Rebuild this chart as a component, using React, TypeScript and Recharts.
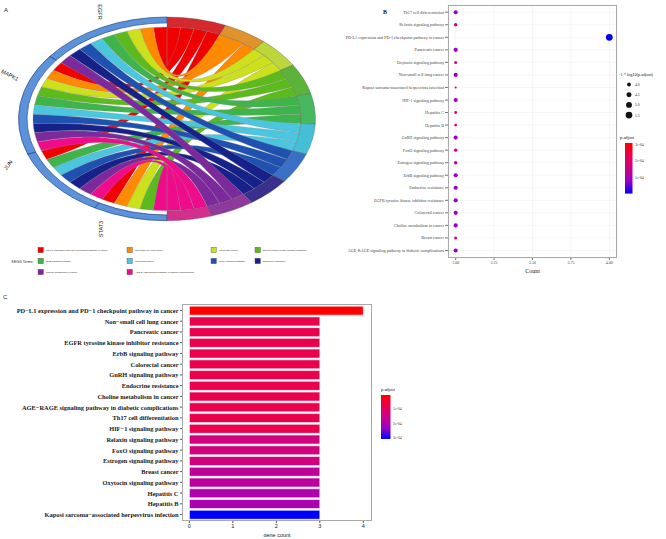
import React from "react";
import {
  PieChart, Pie, Cell, Customized, ScatterChart, Scatter, XAxis, YAxis, ZAxis, CartesianGrid, BarChart, Bar,
} from "recharts";

// ---- panel A: gene / KEGG term chord ----
const GENES = ["EGFR", "MAPK1", "JUN", "STAT3"];
const TERMS = [
  "PD-L1 expression and PD-1 checkpoint pathway in cancer",
  "Non-small cell lung cancer",
  "Pancreatic cancer",
  "EGFR tyrosine kinase inhibitor resistance",
  "ErbB signaling pathway",
  "Colorectal cancer",
  "GnRH signaling pathway",
  "Endocrine resistance",
  "Choline metabolism in cancer",
  "AGE-RAGE signaling pathway in diabetic complications",
];
const TERM_GENES = [
  ["EGFR", "MAPK1", "JUN", "STAT3"],
  ["EGFR", "MAPK1", "STAT3"],
  ["EGFR", "MAPK1", "STAT3"],
  ["EGFR", "MAPK1", "STAT3"],
  ["EGFR", "MAPK1", "JUN"],
  ["EGFR", "MAPK1", "JUN"],
  ["EGFR", "MAPK1", "JUN"],
  ["EGFR", "MAPK1", "JUN"],
  ["EGFR", "MAPK1", "JUN"],
  ["MAPK1", "JUN", "STAT3"],
];
const TERM_COLORS = ["#f00000", "#ff8a00", "#cde01c", "#5cba1e", "#3fb44a", "#4cc6df", "#1f52b0", "#17218a", "#7c2a9b", "#ee0c8a"];
const RING_COLORS = ["#d42a2e", "#df922e", "#bdd63c", "#5cb33a", "#47b760", "#45bfd5", "#3a6fc6", "#3b2f8e", "#8d3a9c", "#d42e8e"];

// ---- panels B and C: enrichment results ----
const BAR_TERMS = [
  "PD-L1 expression and PD-1 checkpoint pathway in cancer",
  "Non-small cell lung cancer",
  "Pancreatic cancer",
  "EGFR tyrosine kinase inhibitor resistance",
  "ErbB signaling pathway",
  "Colorectal cancer",
  "GnRH signaling pathway",
  "Endocrine resistance",
  "Choline metabolism in cancer",
  "AGE-RAGE signaling pathway in diabetic complications",
  "Th17 cell differentiation",
  "HIF-1 signaling pathway",
  "Relaxin signaling pathway",
  "FoxO signaling pathway",
  "Estrogen signaling pathway",
  "Breast cancer",
  "Oxytocin signaling pathway",
  "Hepatitis C",
  "Hepatitis B",
  "Kaposi sarcoma-associated herpesvirus infection",
];
const BAR_COUNTS = [4, 3, 3, 3, 3, 3, 3, 3, 3, 3, 3, 3, 3, 3, 3, 3, 3, 3, 3, 3];
const BAR_PADJ = [
  3.0e-6, 7.5e-5, 7.5e-5, 7.5e-5, 7.5e-5, 7.5e-5, 7.5e-5, 7.5e-5, 7.5e-5, 7.5e-5,
  7.6e-5, 7.8e-5, 1.4e-4, 1.4e-4, 1.42e-4, 1.8e-4, 1.85e-4, 2.05e-4, 2.1e-4, 3.1e-4,
];
// dot plot order, bottom to top
const DOT_ORDER = [
  "AGE-RAGE signaling pathway in diabetic complications",
  "Breast cancer",
  "Choline metabolism in cancer",
  "Colorectal cancer",
  "EGFR tyrosine kinase inhibitor resistance",
  "Endocrine resistance",
  "ErbB signaling pathway",
  "Estrogen signaling pathway",
  "FoxO signaling pathway",
  "GnRH signaling pathway",
  "Hepatitis B",
  "Hepatitis C",
  "HIF-1 signaling pathway",
  "Kaposi sarcoma-associated herpesvirus infection",
  "Non-small cell lung cancer",
  "Oxytocin signaling pathway",
  "Pancreatic cancer",
  "PD-L1 expression and PD-1 checkpoint pathway in cancer",
  "Relaxin signaling pathway",
  "Th17 cell differentiation",
];
const COUNT_TICKS = [3, 3.25, 3.5, 3.75, 4];
const GENE_COUNT_TICKS = [0, 1, 2, 3, 4];
const PADJ_BREAKS = [1e-4, 2e-4, 3e-4];
const SIZE_BREAKS = [4.0, 4.5, 5.0, 5.5];

// red <-> blue in Lab, like ggplot's gradient
const RED_LAB = [53.24, 80.09, 67.2];
const BLUE_LAB = [32.3, 79.19, -107.86];
function mix(t: number) {
  const [L, a, b] = RED_LAB.map((v, i) => v + (BLUE_LAB[i] - v) * t);
  const fy = (L + 16) / 116, fx = fy + a / 500, fz = fy - b / 200;
  const f = (v: number) => (v > 0.206893 ? v ** 3 : (v - 16 / 116) / 7.787);
  const X = 0.95047 * f(fx), Y = f(fy), Z = 1.08883 * f(fz);
  const rgb = [
    3.2406 * X - 1.5372 * Y - 0.4986 * Z,
    -0.9689 * X + 1.8758 * Y + 0.0415 * Z,
    0.0557 * X - 0.204 * Y + 1.057 * Z,
  ];
  return "#" + rgb.map(c => {
    c = Math.min(1, Math.max(0, c));
    const s = c <= 0.0031308 ? 12.92 * c : 1.055 * c ** (1 / 2.4) - 0.055;
    return Math.round(s * 255).toString(16).padStart(2, "0");
  }).join("");
}
const P_MIN = Math.min(...BAR_PADJ);
const P_MAX = Math.max(...BAR_PADJ);
const pT = (p: number) => (p - P_MIN) / (P_MAX - P_MIN);

const barData = BAR_TERMS.map((term, i) => ({ term, count: BAR_COUNTS[i], padj: BAR_PADJ[i] }));
const dotData = DOT_ORDER.map(term => {
  const i = BAR_TERMS.indexOf(term);
  return { term, count: BAR_COUNTS[i], padj: BAR_PADJ[i], nlp: -Math.log10(BAR_PADJ[i]) };
});
const Z_DOMAIN = [3.45, 5.52];
const Z_RANGE = [2.5, 36];

// chord geometry
const CX = 150, CY = 150, R_LINK = 134;
const RAD = Math.PI / 180;
const GENE_TERMS = GENES.map(g => TERMS.map((_, t) => t).filter(t => TERM_GENES[t].includes(g)));
const U = 180 / TERM_GENES.flat().length;
const pt = (a: number) => [CX + R_LINK * Math.cos(a * RAD), CY - R_LINK * Math.sin(a * RAD)];
function ribbon(s0: number, s1: number, t0: number, t1: number) {
  const [x0, y0] = pt(s0), [x1, y1] = pt(s1), [x2, y2] = pt(t0), [x3, y3] = pt(t1);
  const r = R_LINK;
  return `M${x0},${y0} A${r},${r} 0 0 0 ${x1},${y1} Q${CX},${CY} ${x2},${y2} A${r},${r} 0 0 0 ${x3},${y3} Q${CX},${CY} ${x0},${y0} Z`;
}
let acc = 0;
const geneOff = GENE_TERMS.map(l => { const o = acc; acc += l.length; return o; });
acc = 0;
const termOff = TERM_GENES.map(l => { const o = acc; acc += l.length; return o; });
const RIBBONS: { d: string; fill: string }[] = [];
TERM_GENES.forEach((gs, t) => gs.forEach((g, j) => {
  const gi = GENES.indexOf(g);
  const k = GENE_TERMS[gi].indexOf(t);
  const s0 = 90 + (geneOff[gi] + k) * U;
  const t1 = 90 - (termOff[t] + j) * U;
  RIBBONS.push({ d: ribbon(s0, s0 + U, t1 - U, t1), fill: TERM_COLORS[t] });
}));
const geneRing = GENES.map((g, i) => ({ name: g, value: GENE_TERMS[i].length }));
const termRing = TERMS.map((t, i) => ({ name: t, value: TERM_GENES[i].length }));

function Ribbons() {
  return (
    <g>
      {RIBBONS.map((r, i) => (
        <path key={i} d={r.d} fill={r.fill} stroke="#8c8c8c" strokeWidth={0.35} />
      ))}
    </g>
  );
}

const serif = "'Liberation Serif', serif";
const sans = "'Liberation Sans', Arial, sans-serif";

// plain one-line tick labels (no wrapping)
const dotTick = (p: any) => (
  <text x={p.x} y={p.y} textAnchor="end" dominantBaseline="central" fontSize={4.2} fontFamily={serif} fill="#444">
    {p.payload.value}
  </text>
);
const barTick = (p: any) => (
  <text x={p.x} y={p.y} textAnchor="end" dominantBaseline="central" fontSize={6.4} fontFamily={serif}
    fontWeight="bold" fill="#1a1a1a">
    {String(p.payload.value).replace(/-/g, "\u2212")}
  </text>
);

function ChordPanel() {
  const labels = [
    { x: 100, y: 12, rot: 90 },
    { x: 10, y: 75, rot: 28 },
    { x: 8, y: 165, rot: -55 },
    { x: 101, y: 229, rot: -90 },
  ];
  const cols = [38, 127, 211, 255];
  const rows = [250, 261, 272];
  return (
    <>
      <div style={{ position: "absolute", left: 16.5, top: 16.2, width: 300, height: 300, transform: "scaleY(0.686)", transformOrigin: "0 0" }}>
        <PieChart width={300} height={300} margin={{ top: 0, right: 0, bottom: 0, left: 0 }}>
          <Customized component={<Ribbons />} />
          <Pie data={geneRing} dataKey="value" cx={CX} cy={CY} startAngle={90} endAngle={270}
            innerRadius={140} outerRadius={148.5} fill="#5b92db" stroke="#24447f" strokeWidth={0.8}
            isAnimationActive={false} />
          <Pie data={termRing} dataKey="value" cx={CX} cy={CY} startAngle={90} endAngle={-90}
            innerRadius={R_LINK} outerRadius={148.5} stroke="#555" strokeWidth={0.4} isAnimationActive={false}>
            {termRing.map((_, i) => <Cell key={i} fill={RING_COLORS[i]} />)}
          </Pie>
        </PieChart>
      </div>
      <svg style={{ position: "absolute", left: 0, top: 0 }} width={340} height={290}>
        <text x={4} y={12} fontSize={6} fontFamily={sans} fill="#222">A</text>
        {GENES.map((g, i) => (
          <text key={g} x={labels[i].x} y={labels[i].y} fontSize={5.5} fontFamily={sans} fill="#222"
            textAnchor="middle" dominantBaseline="central"
            transform={`rotate(${labels[i].rot} ${labels[i].x} ${labels[i].y})`}>{g}</text>
        ))}
        <text x={11.5} y={262.5} fontSize={3.6} fontFamily={sans} fill="#222">KEGG Terms</text>
        {TERMS.map((t, i) => {
          const x = cols[i % 4], y = rows[Math.floor(i / 4)];
          return (
            <g key={t}>
              <rect x={x} y={y - 2.7} width={5.4} height={5.4} fill={TERM_COLORS[i]} stroke="#555" strokeWidth={0.4} />
              <text x={x + 8} y={y + 0.9} fontSize={2.4} fontFamily={sans} fill="#222">{t}</text>
            </g>
          );
        })}
      </svg>
    </>
  );
}

function DotPanel() {
  const barTop = 143, barH = 50.6;
  const area = (v: number) => Z_RANGE[0] + ((v - Z_DOMAIN[0]) / (Z_DOMAIN[1] - Z_DOMAIN[0])) * (Z_RANGE[1] - Z_RANGE[0]);
  return (
    <>
      <div style={{ position: "absolute", left: 330, top: 0 }}>
        <ScatterChart width={290} height={275} margin={{ top: 4.7, right: 3, bottom: 0, left: 0 }}>
          <CartesianGrid stroke="#f0f0f0" strokeWidth={0.6} />
          <XAxis type="number" dataKey="count" domain={[2.95, 4.05]} ticks={COUNT_TICKS} height={17}
            tickFormatter={(v: number) => v.toFixed(2)} tickSize={2} tickMargin={1.5}
            tick={{ fontSize: 4, fontFamily: serif, fill: "#444" }} axisLine={false} tickLine={{ stroke: "#777" }}
            label={{ value: "Count", position: "insideBottom", offset: 2, fontSize: 6, fontFamily: serif, fill: "#222" }} />
          <YAxis type="category" dataKey="term" width={118} interval={0} padding={{ top: 1.25, bottom: 1.25 }}
            tickSize={3} tickMargin={1} tick={dotTick} axisLine={false} tickLine={{ stroke: "#777" }} />
          <ZAxis type="number" dataKey="nlp" domain={Z_DOMAIN} range={Z_RANGE} />
          <Scatter data={dotData} isAnimationActive={false}>
            {dotData.map((d, i) => <Cell key={i} fill={mix(1 - pT(d.padj))} />)}
          </Scatter>
        </ScatterChart>
      </div>
      <div style={{ position: "absolute", left: 448, top: 4.7, width: 169, height: 253.3, border: "0.8px solid #aaa", boxSizing: "border-box", pointerEvents: "none" }} />
      <svg style={{ position: "absolute", left: 330, top: 0 }} width={336} height={280}>
        <text x={53} y={14} fontSize={6} fontFamily={serif} fontWeight="bold" fill="#222">B</text>
        <text x={289} y={76} fontSize={4.3} fontFamily={serif} fill="#222">-1 * log10(p.adjust)</text>
        {SIZE_BREAKS.map((v, i) => (
          <g key={v}>
            <circle cx={299} cy={84.5 + i * 10.2} r={Math.sqrt(area(v) / Math.PI)} fill="#111" />
            <text x={305} y={86 + i * 10.2} fontSize={3.8} fontFamily={serif} fill="#333">{v.toFixed(1)}</text>
          </g>
        ))}
        <text x={290} y={139} fontSize={4.5} fontFamily={serif} fill="#222">p.adjust</text>
        <defs>
          <linearGradient id="gradB" x1="0" y1="0" x2="0" y2="1">
            {[0, 0.25, 0.5, 0.75, 1].map(s => <stop key={s} offset={s} stopColor={mix(s)} />)}
          </linearGradient>
        </defs>
        <rect x={295} y={barTop} width={7.5} height={barH} fill="url(#gradB)" />
        {PADJ_BREAKS.map(p => {
          const y = barTop + (1 - pT(p)) * barH;
          return <text key={p} x={305} y={y + 1.3} fontSize={3.8} fontFamily={serif} fill="#333">{p.toExponential(0).replace("e-4", "e-04")}</text>;
        })}
      </svg>
    </>
  );
}

function BarPanel() {
  const barTop = 395, barH = 44;
  return (
    <>
      <div style={{ position: "absolute", left: 0, top: 295 }}>
        <BarChart layout="vertical" width={380} height={242} data={barData} barCategoryGap="10%"
          margin={{ top: 9, right: 8, bottom: 0, left: 0 }}>
          <XAxis type="number" dataKey="count" domain={[-0.17, 4.2]} ticks={GENE_COUNT_TICKS} height={16}
            allowDataOverflow tickSize={2} tickMargin={1} axisLine={false} tickLine={{ stroke: "#555" }}
            tick={{ fontSize: 5.5, fontFamily: sans, fill: "#222" }}
            label={{ value: "gene count", position: "insideBottom", offset: 0, fontSize: 5.5, fontFamily: sans, fill: "#222" }} />
          <YAxis type="category" dataKey="term" width={182} interval={0} padding={{ top: 1.07, bottom: 1.07 }}
            tickSize={2} tickMargin={1.5} axisLine={false} tickLine={{ stroke: "#555" }} tick={barTick} />
          <Bar dataKey="count" stroke="#fff" strokeWidth={0.6} isAnimationActive={false}>
            {barData.map((d, i) => <Cell key={i} fill={mix(pT(d.padj))} />)}
          </Bar>
        </BarChart>
      </div>
      <div style={{ position: "absolute", left: 182, top: 304, width: 190, height: 217, border: "0.8px solid #aaa", boxSizing: "border-box", pointerEvents: "none" }} />
      <svg style={{ position: "absolute", left: 0, top: 285 }} width={440} height={254}>
        <text x={3} y={14} fontSize={6} fontFamily={sans} fill="#222">C</text>
        <text x={381} y={106} fontSize={4.5} fontFamily={serif} fill="#222">p.adjust</text>
        <defs>
          <linearGradient id="gradC" x1="0" y1="0" x2="0" y2="1">
            {[0, 0.25, 0.5, 0.75, 1].map(s => <stop key={s} offset={s} stopColor={mix(s)} />)}
          </linearGradient>
        </defs>
        <rect x={381} y={barTop - 285} width={9.5} height={barH} fill="url(#gradC)" />
        {PADJ_BREAKS.map(p => {
          const y = barTop - 285 + pT(p) * barH;
          return <text key={p} x={393} y={y + 1.3} fontSize={3.8} fontFamily={serif} fill="#333">{p.toExponential(0).replace("e-4", "e-04")}</text>;
        })}
      </svg>
    </>
  );
}

export default function App() {
  return (
    <div style={{ position: "absolute", left: 0, top: 0, width: 666, height: 539, background: "#fff", overflow: "hidden" }}>
      <ChordPanel />
      <DotPanel />
      <BarPanel />
    </div>
  );
}
